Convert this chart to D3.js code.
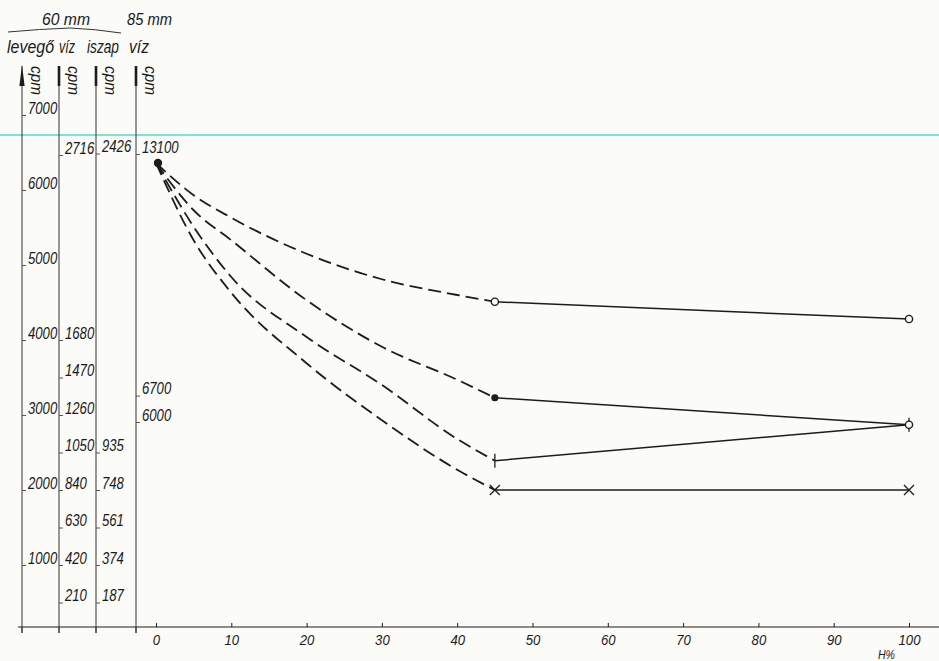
<!DOCTYPE html>
<html>
<head>
<meta charset="utf-8">
<script src="https://cdn.jsdelivr.net/npm/d3@7"></script>
<style>
  html, body { margin: 0; padding: 0; background: #fbfbf7; }
  svg { display: block; }
  text { font-family: "Liberation Sans", Arial, sans-serif; font-style: italic; fill: #1a1a1a; }
</style>
</head>
<body>
<svg id="chart" width="939" height="661"></svg>
<script>
// ---------- data ----------
const xTicks = [0, 10, 20, 30, 40, 50, 60, 70, 80, 90, 100];
const levegoTicks = [1000, 2000, 3000, 4000, 5000, 6000, 7000];
const viz60Ticks = [210, 420, 630, 840, 1050, 1260, 1470, 1680, 2716];
const iszapTicks = [187, 374, 561, 748, 935, 2426];
const viz85Ticks = [6000, 6700, 13100];

// H% positions of the dashed (fitted) part and the solid part
const hDashed = [0, 5, 10, 20, 30, 40, 45];
const hSolid = [45, 100];

// values read on the "levegő" cpm scale
const curve1Dashed = [6360, 5930, 5630, 5150, 4810, 4600, 4510];
const curve2Dashed = [6360, 5730, 5330, 4530, 3910, 3470, 3230];
const curve3Dashed = [6360, 5510, 4840, 4040, 3400, 2680, 2390];
const curve4Dashed = [6360, 5330, 4630, 3690, 2930, 2270, 2000];

const curve1Solid = [4510, 4280];
const curve2Solid = [3230, 2870];
const curve3Solid = [2390, 2870];
const curve4Solid = [2000, 2000];

const headerTop = ["60 mm", "85 mm"];
const headerWords = ["levegő", "víz", "iszap", "víz"];

// ---------- layout ----------
const svg = d3.select("#chart");
const baseY = 627;
const axisTop = 66;
const axisX = [22, 59, 96, 136];

const x = d3.scaleLinear().domain([0, 100]).range([156, 909]);
const yLev = d3.scaleLinear().domain([0, 7000]).range([640, 115]);
const yViz60 = d3.scaleLinear().domain([0, 2940]).range([640, 115]);
const yIszap = d3.scaleLinear().domain([0, 2618]).range([640, 115]);
const yViz85 = d3.scaleLinear().domain([6000, 13100]).range([422, 154]);

const ink = "#1c1c1c";
const charW = 7.3;

// scanner cyan line
svg.append("line").attr("x1", 0).attr("x2", 939).attr("y1", 135).attr("y2", 135)
  .attr("stroke", "#7fe4cf").attr("stroke-width", 2);

// baseline
svg.append("line").attr("x1", 18).attr("x2", 939).attr("y1", baseY).attr("y2", baseY)
  .attr("stroke", ink).attr("stroke-width", 1.2);

// vertical axis lines
axisX.forEach((ax, i) => {
  svg.append("line").attr("x1", ax).attr("x2", ax).attr("y1", axisTop).attr("y2", baseY + 6)
    .attr("stroke", "#333").attr("stroke-width", 1);
  if (i === 0) {
    svg.append("path")
      .attr("d", `M${ax},${axisTop - 1} L${ax + 2.6},${axisTop + 20} L${ax - 2.6},${axisTop + 20} Z`)
      .attr("fill", ink);
  } else {
    svg.append("line").attr("x1", ax).attr("x2", ax).attr("y1", axisTop).attr("y2", axisTop + 20)
      .attr("stroke", ink).attr("stroke-width", 2.6);
  }
  // rotated cpm label
  svg.append("text")
    .attr("transform", `translate(${ax + 8},${axisTop}) rotate(90)`)
    .attr("font-size", 17)
    .attr("textLength", 29).attr("lengthAdjust", "spacingAndGlyphs")
    .attr("dy", "-0.05em")
    .text("cpm");
});

// vertical tick axes
function vAxis(scale, ticks, ax) {
  const g = svg.append("g").attr("transform", `translate(${ax},0)`)
    .call(d3.axisRight(scale).tickValues(ticks).tickSizeInner(4).tickSizeOuter(0).tickPadding(2).tickFormat(d3.format("d")));
  g.select(".domain").remove();
  g.selectAll(".tick line").attr("stroke", "#555").attr("stroke-width", 1);
  g.selectAll(".tick text").attr("font-size", 16).attr("dy", "-0.12em")
    .attr("font-family", "'Liberation Sans',Arial,sans-serif")
    .attr("font-style", "italic").attr("fill", "#1a1a1a")
    .attr("textLength", d => String(d).length * charW).attr("lengthAdjust", "spacingAndGlyphs");
  return g;
}
vAxis(yLev, levegoTicks, axisX[0]);
vAxis(yViz60, viz60Ticks, axisX[1]);
vAxis(yIszap, iszapTicks, axisX[2]);
vAxis(yViz85, viz85Ticks, axisX[3]);

// x axis
const gx = svg.append("g").attr("transform", `translate(0,${baseY})`)
  .call(d3.axisBottom(x).tickValues(xTicks).tickSizeInner(-4).tickSizeOuter(0).tickPadding(7));
gx.select(".domain").remove();
gx.selectAll(".tick line").attr("stroke", ink);
gx.selectAll(".tick text").attr("font-size", 15.5)
  .attr("font-family", "'Liberation Sans',Arial,sans-serif")
  .attr("font-style", "italic").attr("fill", "#1a1a1a")
  .attr("textLength", d => String(d).length * charW).attr("lengthAdjust", "spacingAndGlyphs");
// small ticks under axis lines
axisX.forEach(ax => {
  svg.append("line").attr("x1", ax).attr("x2", ax).attr("y1", baseY).attr("y2", baseY + 6).attr("stroke", "#333");
});
svg.append("text").attr("x", 878).attr("y", 659).attr("font-size", 13)
  .attr("textLength", 17).attr("lengthAdjust", "spacingAndGlyphs").text("H%");

// header
svg.append("text").attr("x", 42).attr("y", 25).attr("font-size", 17)
  .attr("textLength", 48).attr("lengthAdjust", "spacingAndGlyphs").text(headerTop[0]);
svg.append("text").attr("x", 127).attr("y", 25).attr("font-size", 17)
  .attr("textLength", 45).attr("lengthAdjust", "spacingAndGlyphs").text(headerTop[1]);
svg.append("path").attr("d", "M8,32 Q40,29 70,28 Q95,29 121,33")
  .attr("fill", "none").attr("stroke", "#333").attr("stroke-width", 1);
const headerX = [7, 59, 87, 129];
const headerW = [47, 16, 32, 20];
headerWords.forEach((w, i) => {
  svg.append("text").attr("x", headerX[i]).attr("y", 53).attr("font-size", 18)
    .attr("textLength", headerW[i]).attr("lengthAdjust", "spacingAndGlyphs").text(w);
});

// curves
const dashedLine = d3.line().x((d, i) => x(hDashed[i])).y(d => yLev(d)).curve(d3.curveMonotoneX);
const solidLine = d3.line().x((d, i) => x(hSolid[i])).y(d => yLev(d));

[curve1Dashed, curve2Dashed, curve3Dashed, curve4Dashed].forEach(c => {
  svg.append("path").attr("d", dashedLine(c)).attr("fill", "none").attr("stroke", ink)
    .attr("stroke-width", 1.8).attr("stroke-dasharray", "13,6");
});
[curve1Solid, curve2Solid, curve3Solid, curve4Solid].forEach(c => {
  svg.append("path").attr("d", solidLine(c)).attr("fill", "none").attr("stroke", ink)
    .attr("stroke-width", 1.5);
});

// start point
svg.append("circle").attr("cx", x(hDashed[0]) + 2).attr("cy", yLev(curve1Dashed[0])).attr("r", 4.2).attr("fill", ink);

// markers
function openCircle(h, v) {
  svg.append("circle").attr("cx", x(h)).attr("cy", yLev(v)).attr("r", 3.6)
    .attr("fill", "#fbfbf7").attr("stroke", ink).attr("stroke-width", 1.4);
}
function filledDot(h, v) {
  svg.append("circle").attr("cx", x(h)).attr("cy", yLev(v)).attr("r", 3.6).attr("fill", ink);
}
function vTick(h, v) {
  svg.append("line").attr("x1", x(h)).attr("x2", x(h)).attr("y1", yLev(v) - 7).attr("y2", yLev(v) + 7)
    .attr("stroke", ink).attr("stroke-width", 1.3);
}
function cross(h, v) {
  const cx = x(h), cy = yLev(v), s = 5;
  svg.append("path").attr("d", `M${cx - s},${cy - s}L${cx + s},${cy + s}M${cx - s},${cy + s}L${cx + s},${cy - s}`)
    .attr("stroke", ink).attr("stroke-width", 1.3);
}
openCircle(hSolid[0], curve1Solid[0]);
openCircle(hSolid[1], curve1Solid[1]);
filledDot(hSolid[0], curve2Solid[0]);
vTick(hSolid[0], curve3Solid[0]);
vTick(hSolid[1], curve3Solid[1]);
openCircle(hSolid[1], curve2Solid[1]);
cross(hSolid[0], curve4Solid[0]);
cross(hSolid[1], curve4Solid[1]);
</script>
</body>
</html>
